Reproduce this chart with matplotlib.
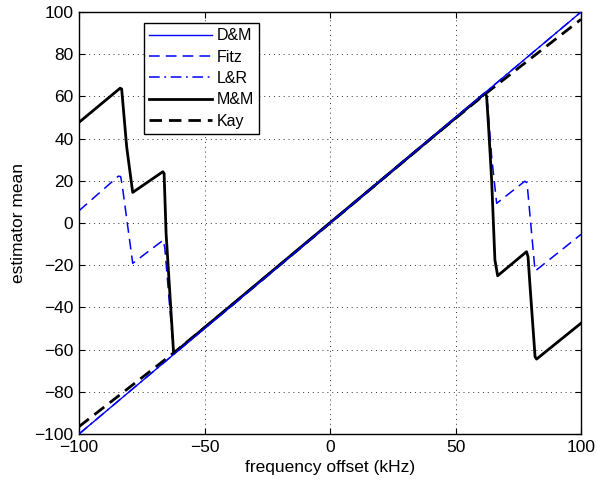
import matplotlib
matplotlib.use("Agg")
import matplotlib.pyplot as plt

plt.rcParams['font.family'] = ['Liberation Sans', 'DejaVu Sans']

# D&M: unbiased, follows the identity line
dm_x = [-100, 100]
dm_y = [-100, 100]

# L&R: follows identity (hidden under D&M)
lr_x = [-100, 100]
lr_y = [-100, 100]

# Fitz
fitz_x = [-100, -84.3, -83.4, -82.8, -78.6, -66.4, -65.8, -62.3, 62.0, 62.8, 64.4, 66.4, 77.6, 78.5, 81.7, 100]
fitz_y = [5.8, 22.2, 22.0, 18.0, -19.1, -8.1, -12.0, -62.0, 61.5, 56.0, 31.4, 9.3, 19.8, 19.0, -22.8, -5.4]

# M&M
mm_x = [-100, -83.6, -83.0, -82.6, -81.0, -78.6, -66.6, -66.1, -65.3, -62.3,
        61.8, 62.4, 63.2, 64.4, 65.7, 66.8, 78.3, 78.9, 79.7, 81.7, 82.3, 100]
mm_y = [47.7, 63.9, 63.5, 58.0, 36.0, 14.5, 24.3, 23.5, -5.0, -61.8,
        61.5, 60.0, 45.0, 20.4, -17.5, -25.0, -13.6, -16.0, -30.0, -63.4, -64.5, -47.5]

# Kay
kay_x = [-100, -80, -62, -40, -20, 0, 20, 40, 62, 80, 100]
kay_y = [-96.5, -78.0, -61.3, -39.8, -19.9, 0, 19.9, 39.8, 61.3, 78.0, 96.5]

xticks = [-100, -50, 0, 50, 100]
yticks = list(range(-100, 101, 20))

fig = plt.figure(figsize=(5.98, 4.87), dpi=100)
ax = fig.add_axes([79/598, 1 - 434/487, (581-79)/598, (434-12)/487])

ax.plot(fitz_x, fitz_y, color='#0000ff', lw=1.1, ls=(0, (7, 4)), label='Fitz', zorder=2)
ax.plot(lr_x, lr_y, color='#0000ff', lw=1.1, ls=(0, (7, 3, 1.2, 3)), label='L&R', zorder=2)
ax.plot(mm_x, mm_y, color='black', lw=2.0, ls='-', label='M&M', zorder=3)
ax.plot(kay_x, kay_y, color='black', lw=2.0, ls=(0, (4.5, 2.5)), label='Kay', zorder=3)
ax.plot(dm_x, dm_y, color='#0000ff', lw=1.0, ls='-', label='D&M', zorder=4)

ax.set_xlim(-100, 100)
ax.set_ylim(-100, 100)
ax.set_xticks(xticks)
ax.set_yticks(yticks)
ax.set_xticklabels([str(t).replace('-', '\u2212') for t in xticks])
ax.set_yticklabels([str(t).replace('-', '\u2212') for t in yticks])
ax.tick_params(direction='in', top=True, right=True, labelsize=12.5, length=4, width=0.8, pad=4)
ax.grid(True, ls=(0, (1, 4)), color='#303030', lw=0.7)
for s in ax.spines.values():
    s.set_linewidth(1.0)

ax.set_xlabel('frequency offset (kHz)', fontsize=12.5, labelpad=4)
ax.set_ylabel('estimator mean', fontsize=12.5, labelpad=6)

handles, labels = ax.get_legend_handles_labels()
order = ['D&M', 'Fitz', 'L&R', 'M&M', 'Kay']
hmap = dict(zip(labels, handles))
leg = ax.legend([hmap[k] for k in order], order, loc='upper left',
                bbox_to_anchor=(0.129, 0.975), fontsize=11.5, handlelength=3.9,
                handletextpad=0.3, borderpad=0.35, labelspacing=0.4,
                fancybox=False, framealpha=1, edgecolor='black', borderaxespad=0)
leg.get_frame().set_linewidth(1.0)

fig.savefig('out.png', dpi=100)
